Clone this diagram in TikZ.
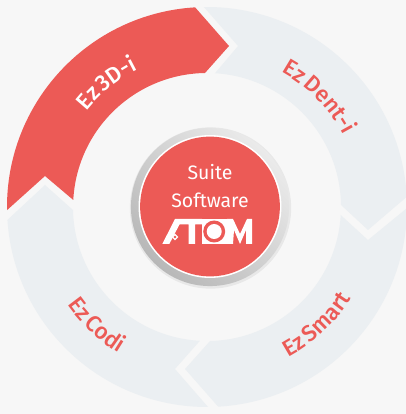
\documentclass[tikz,border=0pt]{standalone}
\usepackage{fontspec}
\setmainfont{Fira Sans}
\newfontfamily\medfont[WordSpace=0.55]{Fira Sans Medium}
\usetikzlibrary{decorations.text}
\definecolor{bgc}{HTML}{F7F7F7}
\definecolor{redc}{HTML}{EC5A56}
\definecolor{greyc}{HTML}{EBEFF2}
\newcommand{\lblfont}{\medfont\fontsize{17}{20}\selectfont}
\tikzset{
  x=0.75pt,y=0.75pt,
  redseg/.style={fill=redc,draw=none},
  greyseg/.style={fill=greyc,draw=none},
  centertext/.style={text=white,font=\fontsize{14.6}{17}\selectfont,inner sep=0pt,anchor=center},
  arclabel/.style={decorate,decoration={text along path,text align=center,text={#1}}},
  logopart/.style={fill=white,draw=none},
  logohole/.style={fill=redc,draw=none},
}
\begin{document}
\begin{tikzpicture}
\useasboundingbox (0,0) rectangle (406,414);
\fill[bgc] (0,0) rectangle (406,414);
% segments (centre 207,207; radii 200 and 134)
\path[redseg] (207,207) ++(180.9:150pt) arc[start angle=180.9,end angle=93.4,radius=150pt]
  -- (229,368) -- ++(-24,-27) arc[start angle=90.9,end angle=177,radius=100.5pt] -- (45,238) -- cycle;
\path[greyseg] (207,207) ++(90.9:150pt) arc[start angle=90.9,end angle=2.9,radius=150pt]
  -- (368,184) -- (341,209) arc[start angle=0.85,end angle=86.6,radius=100.5pt] -- (238,368) -- cycle;
\path[greyseg] (207,207) ++(-0.3:150pt) arc[start angle=-0.3,end angle=-86.8,radius=150pt]
  -- (185,45) -- (210,73) arc[start angle=-88.7,end angle=-3.4,radius=100.5pt] -- (368,174) -- cycle;
\path[greyseg] (207,207) ++(-89.7:150pt) arc[start angle=-89.7,end angle=-176.3,radius=150pt]
  -- (45,229) -- (73,204) arc[start angle=181.3,end angle=267,radius=100.5pt] -- (175,45) -- cycle;
% labels on arcs
\path[arclabel={|\color{white}\lblfont|Ez 3D-i}] (207,207) ++(170:115.5pt) arc[start angle=170,end angle=88,radius=115.5pt];
\path[arclabel={|\color{redc}\lblfont|Ez Dent-i}] (207,207) ++(85:115.5pt) arc[start angle=85,end angle=4,radius=115.5pt];
\path[arclabel={|\color{redc}\lblfont|Ez Smart}] (207,207) ++(-87:128pt) arc[start angle=-87,end angle=-7,radius=128pt];
\path[arclabel={|\color{redc}\lblfont|Ez Codi}] (207,207) ++(-172.5:128pt) arc[start angle=-172.5,end angle=-93.5,radius=128pt];
% centre disc
\fill[black,opacity=.06] (210.5,206) circle[radius=60.5pt];
\shade[left color=black!8,right color=black!28,shading angle=-45] (210,207) circle[radius=59.3pt];
\fill[white] (210,207.5) circle[radius=53.6pt];
\fill[redc] (210,207.5) circle[radius=52.4pt];
\node[centertext] (suite) at (210,242) {Suite};
\node[centertext] (software) at (210,214) {Software};
% logo
\path[logopart] (162.3,170) -- (175,195) -- (202,195) -- (202,189.5) -- (195,189.5) -- (195,170) -- (188.5,170) -- (188.5,189.5) -- (179.5,189.5) -- (169.3,170) -- cycle;
\path[logopart] (201.7,170) rectangle (226.7,195);
\path[logohole] (214.2,182.5) circle[radius=11];
\path[logopart] (214.2,182.5) circle[radius=7.5];
\path[logopart] (227,170) -- (227,195) -- (233,195) -- (240,180) -- (247,195) -- (252,195) -- (252,170) -- (246,170) -- (246,184) -- (240,170) -- (234,184) -- (233,170) -- cycle;
\path[logopart] (175,180.3) -- (178.3,177) -- (175,173.7) -- (171.7,177) -- cycle;
\path[logohole] (175,178.3) -- (176.3,177) -- (175,175.7) -- (173.7,177) -- cycle;
\end{tikzpicture}
\end{document}
